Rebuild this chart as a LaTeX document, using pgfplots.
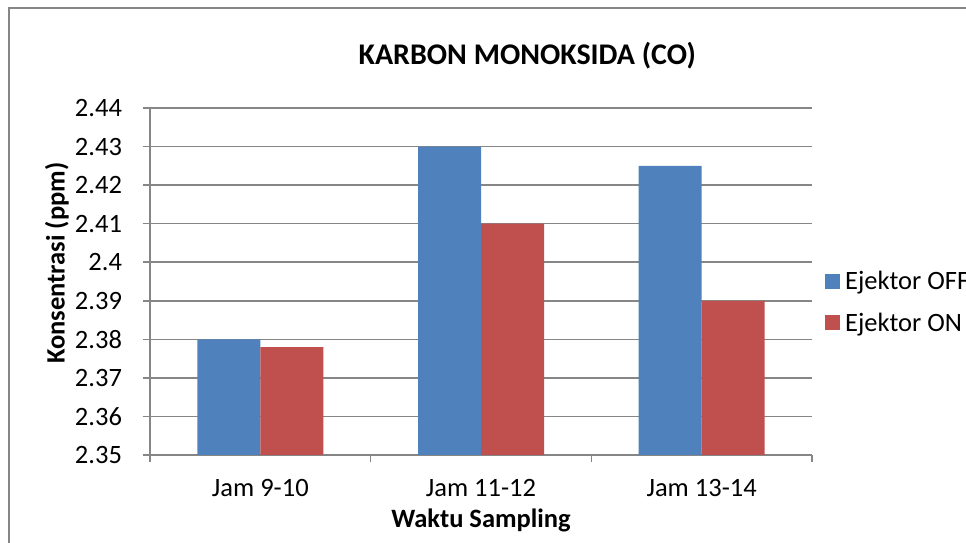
\documentclass[border=0pt]{standalone}
\usepackage{pgfplots}
\pgfplotsset{compat=1.18}
\usepackage{fontspec}
\setmainfont{Carlito}
\definecolor{xlblue}{HTML}{4F81BD}
\definecolor{xlred}{HTML}{C0504D}
\definecolor{xlgray}{HTML}{868686}
\begin{document}
\begin{tikzpicture}[x=1pt,y=1pt]
\useasboundingbox (0,0) rectangle (966,543);
\draw[xlgray, line width=1.5pt] (9,-10) -- (9,535) -- (990,535);
\begin{axis}[
  at={(150pt,88pt)}, anchor=south west,
  scale only axis, width=662pt, height=347pt,
  xmin=-0.5, xmax=2.5, ymin=2.35, ymax=2.44,
  axis lines*=left,
  axis line style={xlgray, line width=1.5pt},
  /pgf/number format/assume math mode=true,
  ytick={2.35,2.36,2.37,2.38,2.39,2.40,2.41,2.42,2.43,2.44},
  yticklabels={2.35,2.36,2.37,2.38,2.39,2.4,2.41,2.42,2.43,2.44},
  xtick={-0.5,0.5,1.5,2.5},
  xticklabels={Jam 9-10,Jam 11-12,Jam 13-14,{}},
  xticklabel style={xshift=110.33pt, yshift=-13pt},
  yticklabel style={xshift=-17pt},
  tick align=outside,
  major tick length=7.5pt,
  tick style={xlgray, line width=1.5pt},
  ymajorgrids,
  major grid style={xlgray, line width=1.5pt},
  tick label style={font=\fontsize{26.5}{30}\selectfont, text=black},
  title={\bfseries KARBON MONOKSIDA (CO)},
  title style={font=\fontsize{30}{36}\selectfont, at={(0.570,1.133)}, anchor=center},
  xlabel={\bfseries Waktu Sampling},
  xlabel style={font=\fontsize{26.5}{30}\selectfont, at={(0.5,-0.19)}, anchor=center},
  ylabel={\bfseries Konsentrasi (ppm)},
  ylabel style={font=\fontsize{26.5}{30}\selectfont, at={(-0.1405,0.553)}, anchor=center, rotate=0},
  legend style={at={(1.0196,0.441)}, anchor=west, draw=none, fill=none,
    font=\fontsize{26.5}{30}\selectfont, inner xsep=0pt, row sep=18pt,
    nodes={inner xsep=5pt}},
  legend cell align=left,
  legend image code/.code={\fill[#1] (0pt,-7.5pt) rectangle (15pt,7.5pt);},
]
\addplot[ybar, bar width=0.2855, bar shift=-0.14275, fill=xlblue, draw=none]
  coordinates {(0,2.38) (1,2.43) (2,2.425)};
\addlegendentry{Ejektor OFF}
\addplot[ybar, bar width=0.2855, bar shift=0.14275, fill=xlred, draw=none]
  coordinates {(0,2.378) (1,2.41) (2,2.39)};
\addlegendentry{Ejektor ON}
\end{axis}
\end{tikzpicture}
\end{document}
